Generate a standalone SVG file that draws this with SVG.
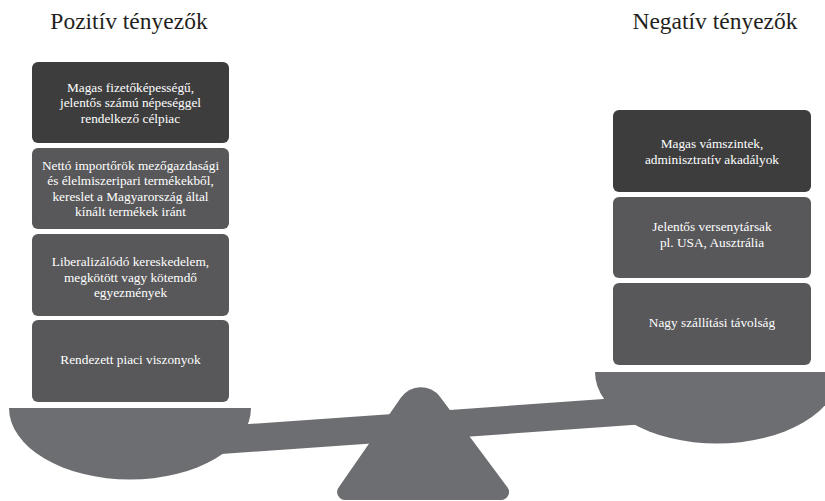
<svg xmlns="http://www.w3.org/2000/svg" width="825" height="501" viewBox="0 0 825 501">
<style>
text{font-family:'Liberation Serif','Times New Roman',Times,serif}
.title{font-size:23.5px;fill:#231f20;text-anchor:middle}
.bt{font-size:13.3px;fill:#ffffff;text-anchor:middle}
.dark{fill:#3d3d3e}
.mid{fill:#58585a}
.scale{fill:#6d6e71}
</style>
<rect width="825" height="501" fill="#ffffff"/>
<g font-family="Liberation Serif, Times New Roman, serif">
<text class="title" x="129" y="29">Pozitív tényezők</text>
<text class="title" x="715" y="29">Negatív tényezők</text>
</g>

<g id="scale">
  <polygon class="scale" points="130,432.5 717,391 717,419 130,460.5"/>
  <path class="scale" d="M9,408 L251,408 A121,71.5 0 0 1 9,408 Z"/>
  <path class="scale" d="M595,372 L839,372 A122,71.5 0 0 1 595,372 Z"/>
  <path class="scale" d="M401,397.5 A24,24 0 0 1 440,396.8 L507.4,487.2 A8,8 0 0 1 501,500 L345.2,500 A8,8 0 0 1 338.6,487.5 Z"/>
</g>

<g id="pos1">
  <rect class="dark" x="32" y="62" width="197" height="81" rx="6"/>
  <text class="bt" x="130.5" y="91.5">Magas fizetőképességű,</text>
  <text class="bt" x="130.5" y="107">jelentős számú népeséggel</text>
  <text class="bt" x="130.5" y="122.5">rendelkező célpiac</text>
</g>
<g id="pos2">
  <rect class="mid" x="32" y="148" width="197" height="81" rx="6"/>
  <text class="bt" x="130.5" y="169.5">Nettó importőrök mezőgazdasági</text>
  <text class="bt" x="130.5" y="185">és élelmiszeripari termékekből,</text>
  <text class="bt" x="130.5" y="200.5">kereslet a Magyarország által</text>
  <text class="bt" x="130.5" y="216">kínált termékek iránt</text>
</g>
<g id="pos3">
  <rect class="mid" x="32" y="234" width="197" height="82" rx="6"/>
  <text class="bt" x="130.5" y="266.3">Liberalizálódó kereskedelem,</text>
  <text class="bt" x="130.5" y="281.8">megkötött vagy kötemdő</text>
  <text class="bt" x="130.5" y="297.3">egyezmények</text>
</g>
<g id="pos4">
  <rect class="mid" x="32" y="320" width="197" height="82" rx="6"/>
  <text class="bt" x="130.5" y="364">Rendezett piaci viszonyok</text>
</g>

<g id="neg1">
  <rect class="dark" x="613" y="110" width="198" height="82" rx="6"/>
  <text class="bt" x="712" y="147.5">Magas vámszintek,</text>
  <text class="bt" x="712" y="164">adminisztratív akadályok</text>
</g>
<g id="neg2">
  <rect class="mid" x="613" y="197" width="198" height="81" rx="6"/>
  <text class="bt" x="712" y="230.5">Jelentős versenytársak</text>
  <text class="bt" x="712" y="246.5">pl. USA, Ausztrália</text>
</g>
<g id="neg3">
  <rect class="mid" x="613" y="283" width="198" height="82" rx="6"/>
  <text class="bt" x="712" y="326.5">Nagy szállítási távolság</text>
</g>
</svg>
